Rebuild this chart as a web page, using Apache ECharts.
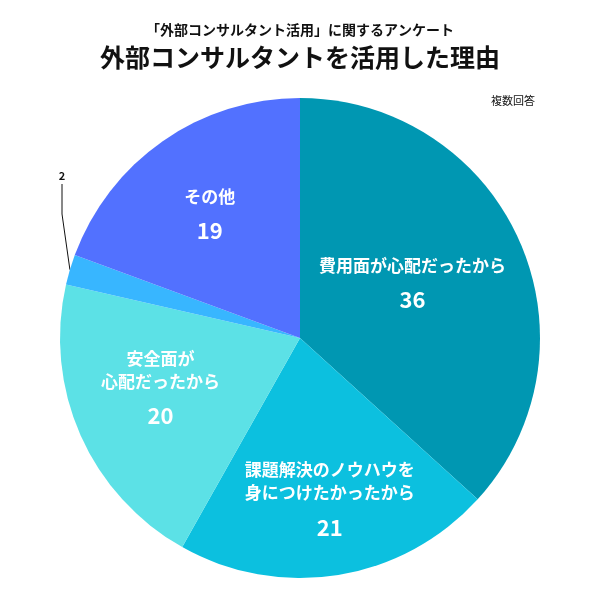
<!DOCTYPE html>
<html><head><meta charset="utf-8">
<script src="https://cdn.jsdelivr.net/npm/echarts@6/dist/echarts.min.js"></script>
<style>body{margin:0}#c{width:600px;height:600px}</style></head>
<body><div id="c"></div>
<script>
var reasons = ['費用面が心配だったから', '課題解決のノウハウを\n身につけたかったから', '安全面が\n心配だったから', '住人同士でトラブル\nになっていたから', 'その他'];
var counts = [36, 21, 20, 2, 19];
var colors = ['#0097b2', '#0cc0df', '#5ce1e6', '#38b6ff', '#5271ff'];

var chart = echarts.init(document.getElementById('c'));
var font = '"Noto Sans CJK JP", sans-serif';

var data = reasons.map(function(r, i) {
    var d = {name: r, value: counts[i], itemStyle: {color: colors[i]}};
    if (counts[i] < 5) {
        d.label = {
            position: 'outside',
            color: '#111',
            fontSize: 11,
            fontWeight: 'bold',
            lineHeight: 16,
            fontFamily: font,
            align: 'center',
            formatter: function(p) { return p.name + '\n' + p.value; }
        };
        d.labelLine = {show: true, lineStyle: {color: '#111', width: 1}};
    }
    return d;
});

var shifts = [[0, 0], [10, 45], [-27, 5], [0, 0], [-20, -18]];

chart.setOption({
    title: [
        {text: '「外部コンサルタント活用」に関するアンケート', left: 'center', top: 18,
         textStyle: {fontSize: 14, fontWeight: 'bold', color: '#111', fontFamily: font}},
        {text: '外部コンサルタントを活用した理由', left: 'center', top: 40,
         textStyle: {fontSize: 25, fontWeight: 'bold', color: '#111', fontFamily: font}},
        {text: '複数回答', right: 60, top: 90,
         textStyle: {fontSize: 11, fontWeight: 'normal', color: '#111', fontFamily: font}}
    ],
    series: [{
        type: 'pie',
        center: [300, 338],
        radius: [0, 240],
        startAngle: 90,
        clockwise: true,
        data: data,
        label: {
            position: 'inside',
            color: '#fff',
            formatter: '{n|{b}}\n{v|{c}}',
            rich: {
                n: {fontSize: 17, fontWeight: 'bold', color: '#fff', lineHeight: 23, fontFamily: font, align: 'center'},
                v: {fontSize: 22, fontWeight: 'bold', color: '#fff', lineHeight: 46, fontFamily: font, align: 'center'}
            }
        },
        labelLayout: function(p) {
            if (p.dataIndex === 3) return {x: 62, y: 160, align: 'center', verticalAlign: 'middle'};
            return {dx: shifts[p.dataIndex][0], dy: shifts[p.dataIndex][1]};
        }
    }]
});
</script></body></html>
